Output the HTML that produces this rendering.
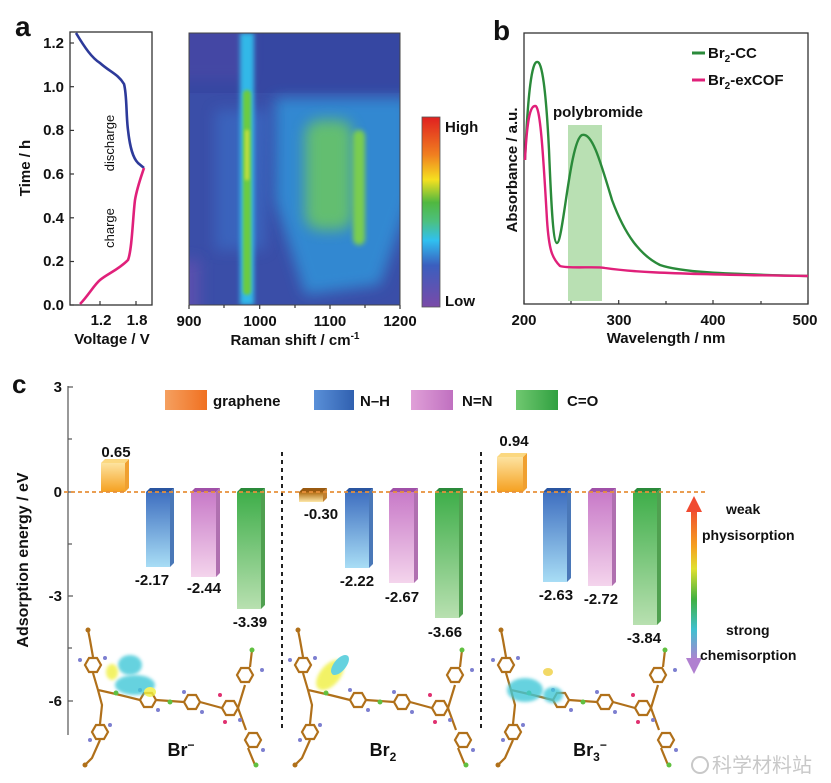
<!DOCTYPE html>
<html><head><meta charset="utf-8"><style>
html,body{margin:0;padding:0;background:#fff}
svg{display:block}
text{font-family:"Liberation Sans",Arial,sans-serif;font-weight:bold;fill:#111}
</style></head><body>
<svg width="831" height="783" viewBox="0 0 831 783" xmlns="http://www.w3.org/2000/svg">
<defs>
<filter id="bl" filterUnits="userSpaceOnUse" x="0" y="0" width="831" height="783"><feGaussianBlur stdDeviation="7"/></filter>
<filter id="bl2" filterUnits="userSpaceOnUse" x="0" y="0" width="831" height="783"><feGaussianBlur stdDeviation="2.5"/></filter>
<filter id="bl3" filterUnits="userSpaceOnUse" x="0" y="0" width="831" height="783"><feGaussianBlur stdDeviation="1.5"/></filter>
<clipPath id="hm"><rect x="189" y="33" width="211" height="272"/></clipPath>
<linearGradient id="cb" x1="0" y1="0" x2="0" y2="1">
<stop offset="0" stop-color="#e02020"/><stop offset="0.2" stop-color="#f08020"/><stop offset="0.33" stop-color="#f5e020"/><stop offset="0.45" stop-color="#50b840"/><stop offset="0.55" stop-color="#4cc080"/><stop offset="0.65" stop-color="#30c0f0"/><stop offset="0.78" stop-color="#3a5fbf"/><stop offset="1" stop-color="#7a4aa8"/></linearGradient>
<linearGradient id="arr" x1="0" y1="0" x2="0" y2="1">
<stop offset="0" stop-color="#f04a30"/><stop offset="0.25" stop-color="#f5a020"/><stop offset="0.4" stop-color="#e0e030"/><stop offset="0.6" stop-color="#40b040"/><stop offset="0.8" stop-color="#40c0d0"/><stop offset="1" stop-color="#b080d0"/></linearGradient>
<linearGradient id="gOr" x1="0" y1="0" x2="0" y2="1"><stop offset="0" stop-color="#fde3a0"/><stop offset="1" stop-color="#f5a020"/></linearGradient>
<linearGradient id="gOrD" x1="0" y1="0" x2="0" y2="1"><stop offset="0" stop-color="#b06a10"/><stop offset="1" stop-color="#fde7a8"/></linearGradient>
<linearGradient id="gB" x1="0" y1="0" x2="0" y2="1"><stop offset="0" stop-color="#3f6fc0"/><stop offset="1" stop-color="#a8ddf5"/></linearGradient>
<linearGradient id="gP" x1="0" y1="0" x2="0" y2="1"><stop offset="0" stop-color="#c87ac8"/><stop offset="1" stop-color="#f4d4ec"/></linearGradient>
<linearGradient id="gG" x1="0" y1="0" x2="0" y2="1"><stop offset="0" stop-color="#3fae4a"/><stop offset="1" stop-color="#b8e0b0"/></linearGradient>
<linearGradient id="lgO" x1="0" y1="0" x2="1" y2="0"><stop offset="0" stop-color="#f5a060"/><stop offset="1" stop-color="#f07020"/></linearGradient>
<linearGradient id="lgB" x1="0" y1="0" x2="1" y2="0"><stop offset="0" stop-color="#5a90d8"/><stop offset="1" stop-color="#3060b0"/></linearGradient>
<linearGradient id="lgP" x1="0" y1="0" x2="1" y2="0"><stop offset="0" stop-color="#e0a0d8"/><stop offset="1" stop-color="#c070c0"/></linearGradient>
<linearGradient id="lgG" x1="0" y1="0" x2="1" y2="0"><stop offset="0" stop-color="#70c870"/><stop offset="1" stop-color="#30a040"/></linearGradient>
<g id="hex"><polygon points="8,0 4,7 -4,7 -8,0 -4,-7 4,-7" fill="none" stroke="#b0701a" stroke-width="2.2"/></g>
<g id="mol">
<g stroke="#b0701a" stroke-width="2.2" fill="none">
<path d="M8,-10 L10,0 L13,17 M13,33 L18,50 L40,55 L60,60 M20,84 L22,65 L18,50 M76,60 L104,62 M120,62 L142,68 M158,68 L165,45 M166,90 L158,68 M168,108 L175,125 M170,27 L172,10 M20,100 L12,118 L5,125"/>
</g>
<use href="#hex" x="13" y="25"/><use href="#hex" x="20" y="92"/><use href="#hex" x="68" y="60"/><use href="#hex" x="112" y="62"/><use href="#hex" x="150" y="68"/><use href="#hex" x="165" y="35"/><use href="#hex" x="173" y="100"/>
<g fill="#7d7fd0"><circle cx="0" cy="20" r="2"/><circle cx="25" cy="18" r="2"/><circle cx="60" cy="50" r="2"/><circle cx="78" cy="70" r="2"/><circle cx="104" cy="52" r="2"/><circle cx="122" cy="72" r="2"/><circle cx="160" cy="80" r="2"/><circle cx="182" cy="30" r="2"/><circle cx="183" cy="110" r="2"/><circle cx="10" cy="100" r="2"/><circle cx="30" cy="85" r="2"/></g>
<g fill="#60c040"><circle cx="172" cy="10" r="2.5"/><circle cx="176" cy="125" r="2.5"/><circle cx="90" cy="62" r="2.5"/><circle cx="36" cy="53" r="2.5"/></g>
<circle cx="8" cy="-10" r="2.5" fill="#b0701a"/><circle cx="5" cy="125" r="2.5" fill="#b0701a"/>
<circle cx="140" cy="55" r="2" fill="#e03070"/><circle cx="145" cy="82" r="2" fill="#e03070"/>
</g>
</defs>

<!-- panel a -->
<text x="15" y="36" font-size="28">a</text>
<rect x="70" y="32" width="82" height="273" fill="none" stroke="#333" stroke-width="1.3"/>
<g stroke="#333" stroke-width="1.2">
<line x1="70" y1="43" x2="74" y2="43"/><line x1="70" y1="86.7" x2="74" y2="86.7"/><line x1="70" y1="130.4" x2="74" y2="130.4"/><line x1="70" y1="174" x2="74" y2="174"/><line x1="70" y1="217.8" x2="74" y2="217.8"/><line x1="70" y1="261.5" x2="74" y2="261.5"/><line x1="70" y1="305" x2="74" y2="305"/>
<line x1="100" y1="305" x2="100" y2="301"/><line x1="136" y1="305" x2="136" y2="301"/>
</g>
<g font-size="15" text-anchor="end">
<text x="64" y="48">1.2</text><text x="64" y="92">1.0</text><text x="64" y="135">0.8</text><text x="64" y="179">0.6</text><text x="64" y="223">0.4</text><text x="64" y="266">0.2</text><text x="64" y="310">0.0</text></g>
<g font-size="15" text-anchor="middle"><text x="101" y="325">1.2</text><text x="137" y="325">1.8</text></g>
<text x="112" y="344" font-size="15" text-anchor="middle">Voltage / V</text>
<text transform="translate(30,168) rotate(-90)" font-size="15" text-anchor="middle">Time / h</text>
<path d="M76,33 C85,48 92,58 100,63 C110,72 118,74 124,84 C127,95 126,115 128,130 C130,148 133,158 138,163 L144,168" fill="none" stroke="#2d3a9a" stroke-width="2.6"/>
<path d="M80,304 C88,296 94,285 100,280 C107,274 118,270 128,260 C132,250 133,215 135,200 C137,188 140,180 144,168" fill="none" stroke="#e0207a" stroke-width="2.6"/>
<text transform="translate(114,143) rotate(-90)" font-size="13" text-anchor="middle" style="font-weight:normal">discharge</text>
<text transform="translate(114,228) rotate(-90)" font-size="13" text-anchor="middle" style="font-weight:normal">charge</text>

<!-- heatmap -->
<g clip-path="url(#hm)">
<rect x="189" y="33" width="211" height="272" fill="#3a4ea8"/>
<rect x="150" y="10" width="100" height="70" fill="#6a4fb0" filter="url(#bl)"/>
<rect x="150" y="260" width="50" height="60" fill="#5a4fae" filter="url(#bl)"/>
<rect x="180" y="33" width="240" height="60" fill="#3545a0" opacity="0.7"/>
<path d="M275,98 L410,98 L410,200 L380,285 L305,295 L275,200 Z" fill="#2ea8e8" opacity="0.65" filter="url(#bl)"/>
<path d="M215,110 L270,110 L265,250 L215,250 Z" fill="#3a78d0" opacity="0.5" filter="url(#bl)"/>
<rect x="305" y="120" width="48" height="110" rx="15" fill="#6cc860" opacity="0.85" filter="url(#bl)"/>
<rect x="353" y="130" width="12" height="115" rx="6" fill="#7acd50" filter="url(#bl2)"/>
<rect x="240" y="33" width="14" height="272" fill="#30b8e8" filter="url(#bl2)"/>
<rect x="243" y="90" width="8" height="205" rx="4" fill="#6ccb40" filter="url(#bl3)"/>
<rect x="245" y="130" width="4" height="50" fill="#c8e040" filter="url(#bl3)"/>
</g>
<rect x="189" y="33" width="211" height="272" fill="none" stroke="#444" stroke-width="1"/>
<g stroke="#333" stroke-width="1.2">
<line x1="189" y1="305" x2="189" y2="309"/><line x1="224" y1="305" x2="224" y2="308"/><line x1="259.7" y1="305" x2="259.7" y2="309"/><line x1="295" y1="305" x2="295" y2="308"/><line x1="330" y1="305" x2="330" y2="309"/><line x1="365" y1="305" x2="365" y2="308"/><line x1="400" y1="305" x2="400" y2="309"/></g>
<g font-size="15" text-anchor="middle"><text x="189" y="326">900</text><text x="260" y="326">1000</text><text x="330" y="326">1100</text><text x="400" y="326">1200</text></g>
<text x="295" y="345" font-size="15" text-anchor="middle">Raman shift / cm<tspan font-size="10" dy="-6">-1</tspan></text>
<rect x="422" y="117" width="18" height="190" fill="url(#cb)" stroke="#555" stroke-width="0.8"/>
<text x="445" y="132" font-size="15">High</text>
<text x="445" y="306" font-size="15">Low</text>

<!-- panel b -->
<text x="493" y="40" font-size="28">b</text>
<rect x="568" y="125" width="34" height="176" fill="#a8d8a0" opacity="0.8"/>
<rect x="524" y="33" width="284" height="271" fill="none" stroke="#333" stroke-width="1.3"/>
<g stroke="#333" stroke-width="1.2">
<line x1="524" y1="304" x2="524" y2="300"/><line x1="571" y1="304" x2="571" y2="301"/><line x1="618.7" y1="304" x2="618.7" y2="300"/><line x1="666" y1="304" x2="666" y2="301"/><line x1="713" y1="304" x2="713" y2="300"/><line x1="761" y1="304" x2="761" y2="301"/><line x1="808" y1="304" x2="808" y2="300"/></g>
<g font-size="15" text-anchor="middle"><text x="524" y="325">200</text><text x="619" y="325">300</text><text x="713" y="325">400</text><text x="805" y="325">500</text></g>
<text x="666" y="343" font-size="15" text-anchor="middle">Wavelength / nm</text>
<text transform="translate(517,170) rotate(-90)" font-size="15" text-anchor="middle">Absorbance / a.u.</text>
<path d="M525,160 C528,90 532,62 537,62 C542,60 546,90 549,150 C551,200 553,243 557,243 C563,243 570,140 582,135 C592,132 600,160 612,200 C625,235 640,255 660,265 C680,272 720,274 808,276" fill="none" stroke="#2a8a3a" stroke-width="2.4"/>
<path d="M525,160 C527,120 530,106 535,106 C540,104 543,150 547,220 C549,250 552,258 560,266 C570,269 595,266 605,268 C625,271 650,274 808,276" fill="none" stroke="#e0207a" stroke-width="2.4"/>
<text x="553" y="117" font-size="15">polybromide</text>
<line x1="692" y1="53" x2="705" y2="53" stroke="#2a8a3a" stroke-width="3"/>
<line x1="692" y1="80" x2="705" y2="80" stroke="#e0207a" stroke-width="3"/>
<text x="708" y="58" font-size="15">Br<tspan font-size="10" dy="4">2</tspan><tspan dy="-4">-CC</tspan></text>
<text x="708" y="85" font-size="15">Br<tspan font-size="10" dy="4">2</tspan><tspan dy="-4">-exCOF</tspan></text>

<!-- panel c -->
<text x="12" y="393" font-size="26">c</text>
<line x1="68" y1="386" x2="68" y2="735" stroke="#555" stroke-width="1.2"/>
<g stroke="#555" stroke-width="1.2">
<line x1="68" y1="387" x2="73" y2="387"/><line x1="68" y1="439" x2="72" y2="439"/><line x1="68" y1="492" x2="73" y2="492"/><line x1="68" y1="544" x2="72" y2="544"/><line x1="68" y1="596" x2="73" y2="596"/><line x1="68" y1="648" x2="72" y2="648"/><line x1="68" y1="701" x2="73" y2="701"/></g>
<g font-size="15" text-anchor="end" style="font-weight:normal"><text x="62" y="392">3</text><text x="62" y="497">0</text><text x="62" y="601">-3</text><text x="62" y="706">-6</text></g>
<text transform="translate(28,560) rotate(-90)" font-size="16" text-anchor="middle">Adsorption energy / eV</text>

<!-- legend -->
<rect x="165" y="390" width="42" height="20" fill="url(#lgO)"/><text x="213" y="406" font-size="15">graphene</text>
<rect x="314" y="390" width="40" height="20" fill="url(#lgB)"/><text x="360" y="406" font-size="15">N–H</text>
<rect x="411" y="390" width="42" height="20" fill="url(#lgP)"/><text x="462" y="406" font-size="15">N=N</text>
<rect x="516" y="390" width="42" height="20" fill="url(#lgG)"/><text x="567" y="406" font-size="15">C=O</text>

<!-- separators -->
<line x1="282" y1="452" x2="282" y2="732" stroke="#222" stroke-width="2" stroke-dasharray="4,4"/>
<line x1="481" y1="452" x2="481" y2="732" stroke="#222" stroke-width="2" stroke-dasharray="4,4"/>

<!-- bars -->
<g>
<rect x="101" y="463" width="24" height="29" fill="url(#gOr)"/><polygon points="125,463 129,459 129,488 125,492" fill="#f0a030"/><polygon points="101,463 105,459 129,459 125,463" fill="#fbd880"/>
<rect x="146" y="492" width="24" height="75" fill="url(#gB)"/><polygon points="170,492 174,488 174,563 170,567" fill="#4a78b8"/><polygon points="146,492 150,488 174,488 170,492" fill="#2a55a0"/>
<rect x="191" y="492" width="25" height="85" fill="url(#gP)"/><polygon points="216,492 220,488 220,573 216,577" fill="#b070b0"/><polygon points="191,492 195,488 220,488 216,492" fill="#a050a8"/>
<rect x="237" y="492" width="24" height="117" fill="url(#gG)"/><polygon points="261,492 265,488 265,605 261,609" fill="#50a050"/><polygon points="237,492 241,488 265,488 261,492" fill="#2a8a3a"/>

<rect x="299" y="492" width="24" height="10" fill="url(#gOrD)"/><polygon points="323,492 327,488 327,498 323,502" fill="#c08030"/><polygon points="299,492 303,488 327,488 323,492" fill="#9a5a10"/>
<rect x="345" y="492" width="24" height="76" fill="url(#gB)"/><polygon points="369,492 373,488 373,564 369,568" fill="#4a78b8"/><polygon points="345,492 349,488 373,488 369,492" fill="#2a55a0"/>
<rect x="389" y="492" width="25" height="91" fill="url(#gP)"/><polygon points="414,492 418,488 418,579 414,583" fill="#b070b0"/><polygon points="389,492 393,488 418,488 414,492" fill="#a050a8"/>
<rect x="435" y="492" width="24" height="126" fill="url(#gG)"/><polygon points="459,492 463,488 463,614 459,618" fill="#50a050"/><polygon points="435,492 439,488 463,488 459,492" fill="#2a8a3a"/>

<rect x="497" y="457" width="26" height="35" fill="url(#gOr)"/><polygon points="523,457 527,453 527,488 523,492" fill="#f0a030"/><polygon points="497,457 501,453 527,453 523,457" fill="#fbd880"/>
<rect x="543" y="492" width="24" height="90" fill="url(#gB)"/><polygon points="567,492 571,488 571,578 567,582" fill="#4a78b8"/><polygon points="543,492 547,488 571,488 567,492" fill="#2a55a0"/>
<rect x="588" y="492" width="24" height="94" fill="url(#gP)"/><polygon points="612,492 616,488 616,582 612,586" fill="#b070b0"/><polygon points="588,492 592,488 616,488 612,492" fill="#a050a8"/>
<rect x="633" y="492" width="24" height="133" fill="url(#gG)"/><polygon points="657,492 661,488 661,621 657,625" fill="#50a050"/><polygon points="633,492 637,488 661,488 657,492" fill="#2a8a3a"/>
</g>
<line x1="64" y1="492" x2="705" y2="492" stroke="#e8903a" stroke-width="1.8" stroke-dasharray="4,3"/>

<g font-size="15" text-anchor="middle">
<text x="116" y="457">0.65</text><text x="152" y="585">-2.17</text><text x="204" y="593">-2.44</text><text x="250" y="627">-3.39</text>
<text x="321" y="519">-0.30</text><text x="357" y="586">-2.22</text><text x="402" y="602">-2.67</text><text x="445" y="637">-3.66</text>
<text x="514" y="446">0.94</text><text x="556" y="600">-2.63</text><text x="601" y="604">-2.72</text><text x="644" y="643">-3.84</text>
</g>

<!-- arrow -->
<rect x="691" y="508" width="6" height="152" fill="url(#arr)"/>
<polygon points="686,512 694,496 702,512" fill="#f04a30"/>
<polygon points="686,658 694,674 702,658" fill="#b080d0"/>
<g font-size="14"><text x="726" y="514">weak</text><text x="702" y="540">physisorption</text><text x="726" y="635">strong</text><text x="700" y="660">chemisorption</text></g>

<!-- molecules -->
<use href="#mol" x="80" y="640"/>
<use href="#mol" x="290" y="640"/>
<use href="#mol" x="493" y="640"/>
<g opacity="0.8">
<ellipse cx="130" cy="665" rx="12" ry="10" fill="#40c8d8" filter="url(#bl3)"/><ellipse cx="135" cy="685" rx="20" ry="10" fill="#40c8d8" filter="url(#bl3)"/><ellipse cx="112" cy="672" rx="6" ry="8" fill="#f0f040" filter="url(#bl3)"/><ellipse cx="150" cy="692" rx="6" ry="5" fill="#f0f040"/>
<ellipse cx="330" cy="675" rx="10" ry="18" fill="#f0f040" transform="rotate(40 330 675)" filter="url(#bl3)"/><ellipse cx="340" cy="665" rx="6" ry="12" fill="#40c8d8" transform="rotate(40 340 665)"/>
<ellipse cx="525" cy="690" rx="18" ry="12" fill="#40c8d8" filter="url(#bl3)"/><ellipse cx="553" cy="695" rx="10" ry="8" fill="#40c8d8" filter="url(#bl3)"/><ellipse cx="548" cy="672" rx="5" ry="4" fill="#f0d040"/>
</g>

<g font-size="18" text-anchor="middle">
<text x="181" y="756">Br<tspan font-size="12" dy="-7">−</tspan></text>
<text x="383" y="756">Br<tspan font-size="12" dy="5">2</tspan></text>
<text x="590" y="756">Br<tspan font-size="12" dy="5">3</tspan><tspan font-size="12" dy="-12">−</tspan></text>
</g>
<text x="712" y="772" font-size="20" style="font-weight:normal;fill:#c8c8c8;font-family:'Liberation Sans','Noto Sans CJK SC',sans-serif">科学材料站</text>
<circle cx="700" cy="765" r="8" fill="none" stroke="#c8c8c8" stroke-width="2"/>
</svg>
</body></html>
